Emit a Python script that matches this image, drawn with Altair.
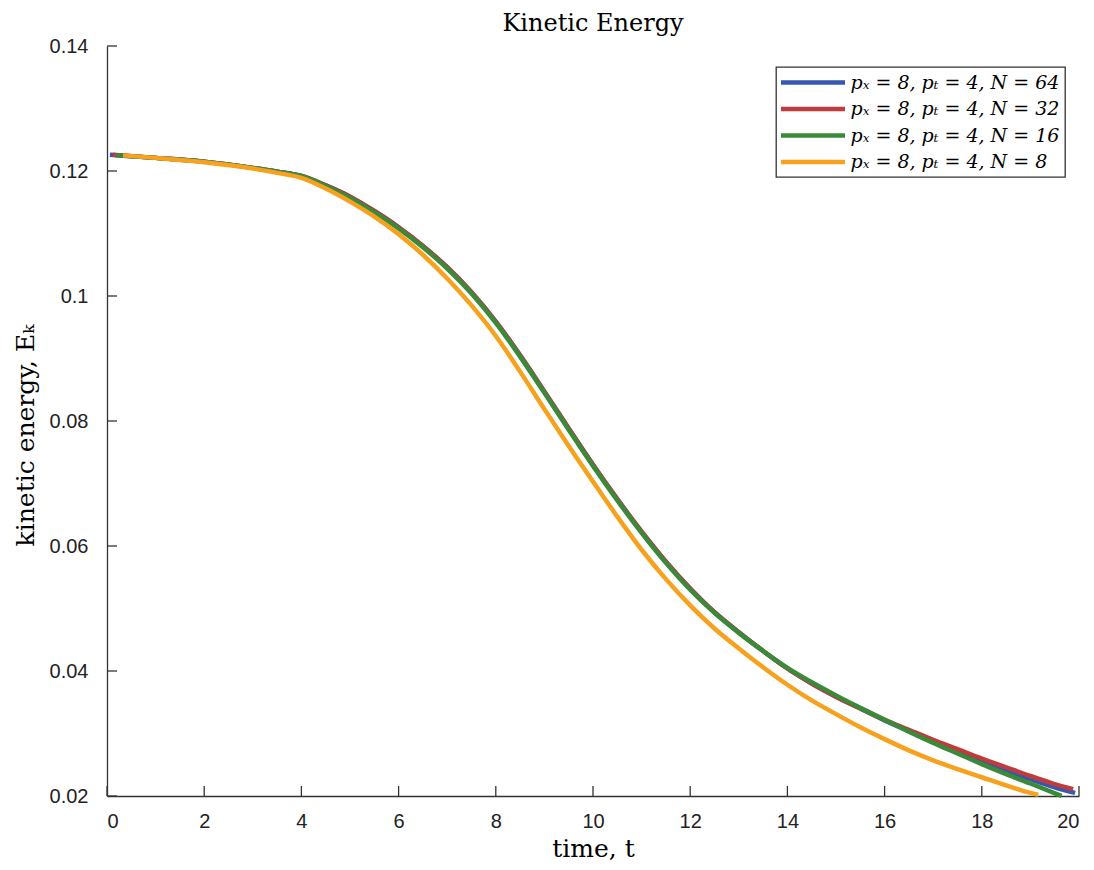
import altair as alt
import pandas as pd

# ---------------- data ----------------
LABELS = [
    "pₓ = 8, pₜ = 4, N = 64",
    "pₓ = 8, pₜ = 4, N = 32",
    "pₓ = 8, pₜ = 4, N = 16",
    "pₓ = 8, pₜ = 4, N = 8",
]
COLORS = ["#3558b0", "#c03b3b", "#3a8a3a", "#f7a21e"]

T_GRID = [1, 2, 3, 3.5, 4, 4.5, 5, 5.5, 6, 6.5, 7, 7.5, 8, 8.5, 9, 9.5, 10,
          10.5, 11, 11.5, 12, 12.5, 13, 13.5, 14, 14.5, 15, 15.5, 16, 16.5,
          17, 17.5, 18, 18.5, 19]

# N = 64 (blue)
T_N64 = [0.06] + T_GRID + [19.5, 19.92]
E_N64 = [0.1226, 0.1221, 0.1215, 0.1205, 0.1199, 0.1192, 0.1177, 0.1159,
         0.1136, 0.1110, 0.1080, 0.1046, 0.1006, 0.0959, 0.0905, 0.0847,
         0.0788, 0.0730, 0.0675, 0.0623, 0.0575, 0.0532, 0.0494, 0.0462,
         0.0432, 0.0404, 0.0380, 0.0359, 0.0340, 0.0321, 0.0304, 0.0288,
         0.0272, 0.0256, 0.0241, 0.0227, 0.0214, 0.0205]

# N = 32 (red)
T_N32 = [0.12] + T_GRID + [19.5, 19.88]
E_N32 = [0.1226, 0.1221, 0.1215, 0.1205, 0.1199, 0.1192, 0.1177, 0.1159,
         0.1136, 0.1110, 0.1080, 0.1046, 0.1006, 0.0959, 0.0905, 0.0847,
         0.0788, 0.0730, 0.0675, 0.0623, 0.0575, 0.0532, 0.0494, 0.0462,
         0.0432, 0.0404, 0.0380, 0.0359, 0.0340, 0.0322, 0.0306, 0.0290,
         0.0275, 0.0260, 0.0246, 0.0232, 0.0219, 0.0211]

# N = 16 (green)
T_N16 = [0.18] + T_GRID + [19.64]
E_N16 = [0.1225, 0.1221, 0.1215, 0.1205, 0.1199, 0.1192, 0.1176, 0.1157,
         0.1134, 0.1108, 0.1078, 0.1044, 0.1004, 0.0957, 0.0903, 0.0845,
         0.0786, 0.0728, 0.0673, 0.0621, 0.0573, 0.0530, 0.0493, 0.0461,
         0.0432, 0.0405, 0.0382, 0.0361, 0.0341, 0.0322, 0.0303, 0.0285,
         0.0268, 0.0251, 0.0235, 0.0220, 0.0200]

# N = 8 (orange)
T_N8 = [0.33] + T_GRID + [19.16]
E_N8 = [0.1225, 0.1221, 0.1214, 0.1204, 0.1197, 0.1189, 0.1172, 0.1151,
        0.1127, 0.1099, 0.1066, 0.1028, 0.0985, 0.0936, 0.0879, 0.0819,
        0.0760, 0.0703, 0.0647, 0.0594, 0.0547, 0.0505, 0.0468, 0.0436,
        0.0406, 0.0378, 0.0353, 0.0331, 0.0310, 0.0291, 0.0273, 0.0257,
        0.0243, 0.0230, 0.0217, 0.0205, 0.0202]

X_TICKS = [0, 2, 4, 6, 8, 10, 12, 14, 16, 18, 20]
Y_TICKS = [0.02, 0.04, 0.06, 0.08, 0.1, 0.12, 0.14]

TITLE = "Kinetic Energy"
X_TITLE = "time, t"
Y_TITLE = "kinetic energy, Eₖ"

# ---------------- build table ----------------
rows = []
for k, (lab, ts, es) in enumerate(zip(LABELS, [T_N64, T_N32, T_N16, T_N8],
                                      [E_N64, E_N32, E_N16, E_N8])):
    for t, e in zip(ts, es):
        rows.append({"series": lab, "t": t, "E": e, "k": k})
df = pd.DataFrame(rows)

W, H = 972, 750
AXIS_COLOR = "#333333"

xscale = alt.Scale(domain=[0, 20], nice=False)
yscale = alt.Scale(domain=[0.02, 0.14], nice=False)
x_axis = alt.Axis(values=X_TICKS, title=X_TITLE, format="~g",
                  labelPadding=15, titlePadding=5)
y_axis = alt.Axis(values=Y_TICKS, title=Y_TITLE, format="~g",
                  labelPadding=19, titlePadding=11, titleY=389)

legend = alt.Legend(
    title=None,
    orient="none",
    legendX=669,
    legendY=21,
    padding=5,
    strokeColor=AXIS_COLOR,
    fillColor="white",
    symbolType="M-4,0H4",
    symbolSize=256,
    symbolStrokeWidth=4.5,
    symbolOffset=21.5,
    labelOffset=27,
    rowPadding=5.5,
    labelFont="DejaVu Serif",
    labelFontStyle="italic",
    labelFontSize=19,
    labelColor="black",
    labelLimit=400,
)

lines = alt.Chart(df).mark_line(strokeWidth=4.5, interpolate="monotone").encode(
    x=alt.X("t:Q", scale=xscale, axis=x_axis),
    y=alt.Y("E:Q", scale=yscale, axis=y_axis),
    color=alt.Color("series:N", scale=alt.Scale(domain=LABELS, range=COLORS),
                    legend=legend),
    order=alt.Order("t:Q"),
)

xt = alt.Chart(pd.DataFrame({"t": X_TICKS})).mark_rule(
    color=AXIS_COLOR, strokeWidth=1.3).encode(
    x=alt.X("t:Q", scale=xscale, axis=x_axis),
    y=alt.value(H), y2=alt.value(H - 10))

yt = alt.Chart(pd.DataFrame({"E": Y_TICKS})).mark_rule(
    color=AXIS_COLOR, strokeWidth=1.3).encode(
    y=alt.Y("E:Q", scale=yscale, axis=y_axis),
    x=alt.value(0), x2=alt.value(10))

chart = alt.layer(lines, xt, yt).properties(
    width=W, height=H,
    title=alt.TitleParams(TITLE, font="DejaVu Serif", fontSize=24,
                          fontWeight="normal", color="black", offset=0),
    autosize=alt.AutoSizeParams(type="none"),
    padding={"left": 99, "top": 38, "right": 7, "bottom": 66},
).configure_view(stroke=None).configure_axis(
    grid=False, ticks=False, tickSize=0,
    domainColor=AXIS_COLOR, domainWidth=1.3,
    labelFont="Liberation Sans", labelFontSize=20, labelColor="#222222",
    titleFont="DejaVu Serif", titleFontSize=25, titleFontWeight="normal",
    titleColor="black",
).configure_legend(strokeWidth=1.3)

chart.save("out.html", embed_options={"renderer": "svg", "actions": False})
